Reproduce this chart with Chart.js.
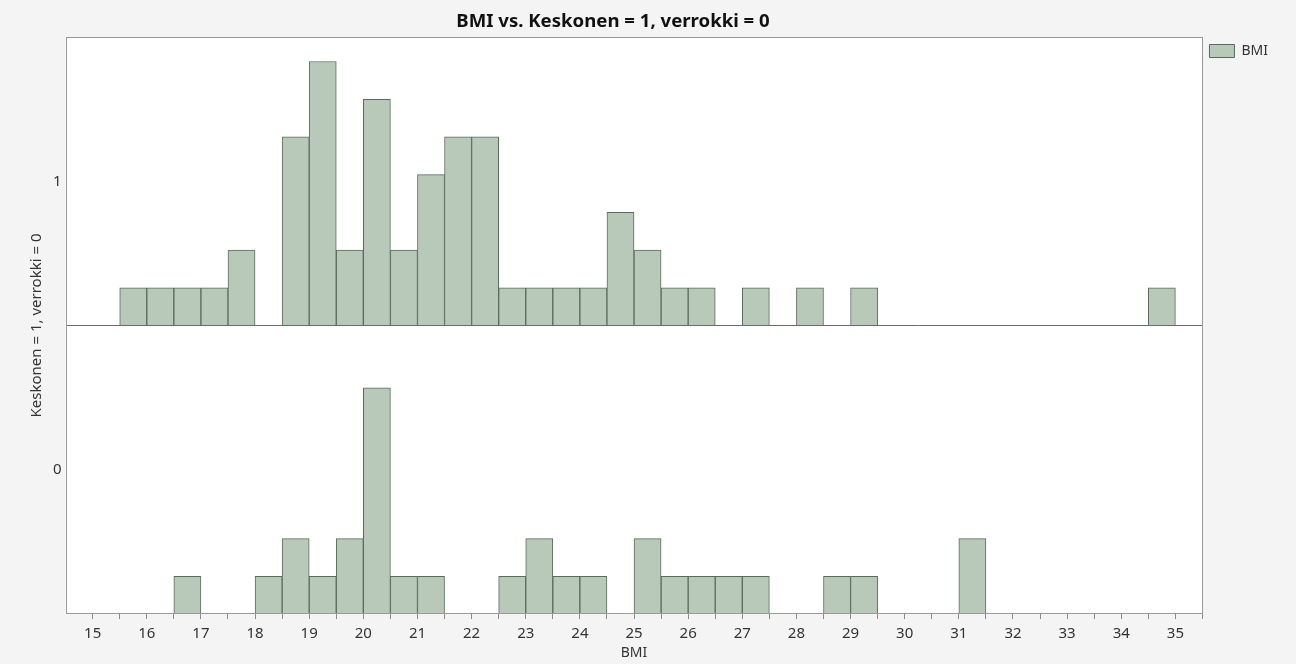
<!DOCTYPE html>
<html>
<head>
<meta charset="utf-8">
<script src="https://cdn.jsdelivr.net/npm/chart.js@4/dist/chart.umd.min.js"></script>
<style>
  html, body { margin: 0; padding: 0; background: #f4f4f4; }
  #wrap { position: relative; width: 1296px; height: 664px; }
  #title {
    position: absolute; left: 0; top: 9px; width: 1226px;
    text-align: center; font: bold 18.6px "Noto Sans", "Open Sans", sans-serif;
    color: #111; line-height: 22px;
  }
  canvas { position: absolute; left: 0; top: 0; }
</style>
</head>
<body>
<div id="wrap">
  <canvas id="c" width="1296" height="664"></canvas>
  <div id="title">BMI vs. Keskonen = 1, verrokki = 0</div>
</div>
<script>
// Lower edge of each 0.5-wide BMI bin
const binLow = [15.5, 16, 16.5, 17, 17.5, 18, 18.5, 19, 19.5, 20,
                20.5, 21, 21.5, 22, 22.5, 23, 23.5, 24, 24.5, 25,
                25.5, 26, 26.5, 27, 27.5, 28, 28.5, 29, 29.5, 30,
                30.5, 31, 31.5, 32, 32.5, 33, 33.5, 34, 34.5];
const binWidth = 0.5;

// Counts per bin, Keskonen = 1 (upper panel)
const countsKeskonen = [1, 1, 1, 1, 2, 0, 5, 7, 2, 6,
                        2, 4, 5, 5, 1, 1, 1, 1, 3, 2,
                        1, 1, 0, 1, 0, 1, 0, 1, 0, 0,
                        0, 0, 0, 0, 0, 0, 0, 0, 1];

// Counts per bin, verrokki = 0 (lower panel)
const countsVerrokki = [0, 0, 1, 0, 0, 1, 2, 1, 2, 6,
                        1, 1, 0, 0, 1, 2, 1, 1, 0, 2,
                        1, 1, 1, 1, 0, 0, 1, 1, 0, 0,
                        0, 2, 0, 0, 0, 0, 0, 0, 0];

const groupLabels = ['1', '0'];
const xTickValues = [15, 16, 17, 18, 19, 20, 21, 22, 23, 24, 25,
                     26, 27, 28, 29, 30, 31, 32, 33, 34, 35];
const xRange = [14.5, 35.5];
const panelMax = 7.65;

const FILL = '#b9c9b9';
const EDGE = '#5b6b5b';
const FONT = '"Noto Sans", "Open Sans", sans-serif';

function toPoints(counts) {
  return binLow.map((lo, i) => ({ x: lo + binWidth / 2, y: counts[i] > 0 ? counts[i] : null }));
}

// white plotting area with a thin grey frame
const framePlugin = {
  id: 'frame',
  beforeDraw(chart) {
    const { ctx, chartArea: a } = chart;
    ctx.save();
    ctx.fillStyle = '#ffffff';
    ctx.fillRect(a.left, a.top, a.right - a.left, a.bottom - a.top);
    ctx.restore();
  },
  afterDraw(chart) {
    const { ctx, chartArea: a } = chart;
    ctx.save();
    ctx.strokeStyle = '#9a9a9a';
    ctx.lineWidth = 1;
    ctx.strokeRect(Math.round(a.left) + 0.5, Math.round(a.top) + 0.5,
                   Math.round(a.right - a.left) - 1, Math.round(a.bottom - a.top) - 1);
    ctx.restore();
  }
};

function panelAxis(label, showDivider) {
  return {
    type: 'linear',
    position: 'left',
    stack: 'panels',
    stackWeight: 1,
    weight: 0,
    min: 0,
    max: panelMax,
    afterBuildTicks(axis) {
      axis.ticks = [{ value: 0 }, { value: panelMax / 2 }];
    },
    ticks: {
      padding: 4,
      color: '#333',
      font: { family: FONT, size: 15 },
      callback: (v) => (v === 0 ? '' : label)
    },
    grid: {
      display: true,
      drawTicks: false,
      lineWidth: 1,
      color: (ctx) => (showDivider && ctx.tick && ctx.tick.value === 0 ? '#6a6a6a' : 'rgba(0,0,0,0)')
    },
    border: { display: false }
  };
}

new Chart(document.getElementById('c'), {
  type: 'bar',
  data: {
    datasets: [
      {
        label: 'BMI',
        data: toPoints(countsVerrokki),
        yAxisID: 'yVerrokki',
        backgroundColor: FILL,
        borderColor: EDGE,
        borderWidth: 1,
        grouped: false,
        barPercentage: 1,
        categoryPercentage: 1
      },
      {
        label: 'BMI',
        data: toPoints(countsKeskonen),
        yAxisID: 'yKeskonen',
        backgroundColor: FILL,
        borderColor: EDGE,
        borderWidth: 1,
        grouped: false,
        barPercentage: 1,
        categoryPercentage: 1
      }
    ]
  },
  options: {
    responsive: false,
    animation: false,
    layout: { padding: { top: 37, left: 28, right: 18, bottom: 0 } },
    plugins: {
      title: { display: false },
      tooltip: { enabled: false },
      legend: {
        position: 'right',
        align: 'start',
        labels: {
          boxWidth: 25,
          boxHeight: 13,
          padding: 7,
          color: '#333',
          font: { family: FONT, size: 14 },
          filter: (item) => item.datasetIndex === 0
        }
      }
    },
    scales: {
      x: {
        type: 'linear',
        position: 'bottom',
        offset: false,
        min: xRange[0],
        max: xRange[1],
        afterBuildTicks(axis) {
          const t = [];
          xTickValues.forEach((v) => { t.push({ value: v }); t.push({ value: v + 0.5 }); });
          axis.ticks = t.filter((o) => o.value <= xRange[1]);
        },
        ticks: {
          autoSkip: false,
          maxRotation: 0,
          padding: 7.5,
          color: '#333',
          font: { family: FONT, size: 15, lineHeight: 1 },
          callback: (v) => (Number.isInteger(v) ? String(v) : '')
        },
        grid: {
          display: true,
          offset: false,
          drawOnChartArea: false,
          tickLength: 5,
          color: '#8a8a8a'
        },
        border: { display: false },
        title: {
          display: true,
          text: 'BMI',
          color: '#333',
          font: { family: FONT, size: 14, lineHeight: 1 },
          padding: { top: -3, bottom: 4 }
        }
      },
      yVerrokki: panelAxis(groupLabels[1], false),
      yKeskonen: panelAxis(groupLabels[0], true),
      yTitle: {
        type: 'linear',
        position: 'left',
        weight: 10,
        ticks: { display: false },
        grid: { display: false, drawTicks: false },
        border: { display: false },
        title: {
          display: true,
          text: 'Keskonen = 1, verrokki = 0',
          color: '#333',
          font: { family: FONT, size: 15 },
          padding: { top: 0, bottom: 3 }
        }
      }
    }
  },
  plugins: [framePlugin]
});
</script>
</body>
</html>
